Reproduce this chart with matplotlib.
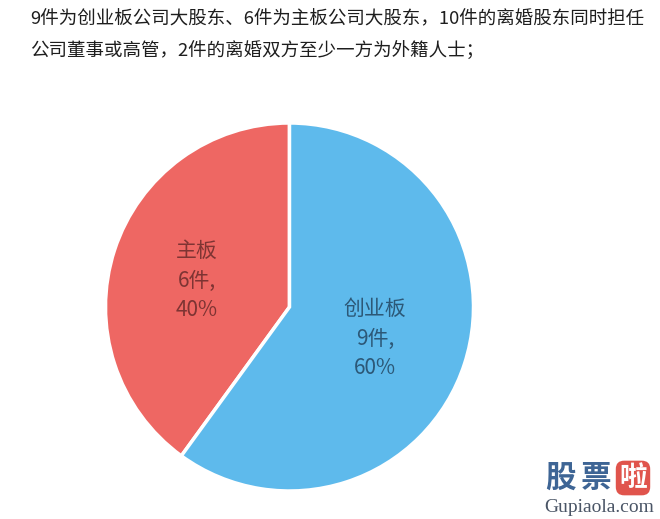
import matplotlib
matplotlib.use("Agg")
import matplotlib.pyplot as plt
import numpy as np

plt.rcParams['font.family'] = ['Noto Sans CJK SC', 'DejaVu Sans']

# data
names = ['主板', '创业板']
counts = [6, 9]
colors = ['#EE6763', '#5EBAEC']
text_colors = ['#7E3433', '#2C5877']

title_lines = ['9件为创业板公司大股东、6件为主板公司大股东，10件的离婚股东同时担任',
               '公司董事或高管，2件的离婚双方至少一方为外籍人士；']

W, H = 660, 519
fig = plt.figure(figsize=(W / 100, H / 100), dpi=100)

# pie sits at centre (289.5, 307) px, radius 184 px
cx, cy, r = 289.5, 307, 184
ax = fig.add_axes([(cx - r) / W, (H - cy - r) / H, 2 * r / W, 2 * r / H])
total = sum(counts)
wedges, _ = ax.pie(counts, colors=colors, startangle=90, counterclock=True,
                   wedgeprops=dict(edgecolor='white', linewidth=2.5))
ax.set_xlim(-1, 1)
ax.set_ylim(-1, 1)
ax.set_aspect('equal')
ax.axis('off')

dists = [0.53, 0.49]
for w, n, c, tc, d in zip(wedges, names, counts, text_colors, dists):
    ang = np.deg2rad((w.theta1 + w.theta2) / 2)
    pct = round(c / total * 100)
    ax.text(d * np.cos(ang), d * np.sin(ang) - 0.02, f'{n}\n{c}件,\n{pct}%',
            ha='center', va='center', fontsize=15, color=tc, linespacing=1.45)

# heading text
for i, line in enumerate(title_lines):
    fig.text(30 / W, 1 - (19 + i * 32) / H, line, ha='left', va='center',
             fontsize=13.3, color='#1E1E1E')

# watermark
fig.text(560 / W, 1 - 478 / H, '股', ha='center', va='center', fontsize=22,
         fontweight='bold', color='#3E6595')
fig.text(596 / W, 1 - 478 / H, '票', ha='center', va='center', fontsize=22,
         fontweight='bold', color='#3E6595')
fig.text(633 / W, 1 - 478 / H, '啦', ha='center', va='center', fontsize=20,
         fontweight='bold', color='white',
         bbox=dict(boxstyle='round,pad=0.12,rounding_size=0.3', fc='#E0544C', ec='none'))
fig.text(599 / W, 1 - 507 / H, 'Gupiaola.com', ha='center', va='center',
         fontsize=14, family='Liberation Serif', color='#4A5566')

fig.savefig('out.png', dpi=100)
